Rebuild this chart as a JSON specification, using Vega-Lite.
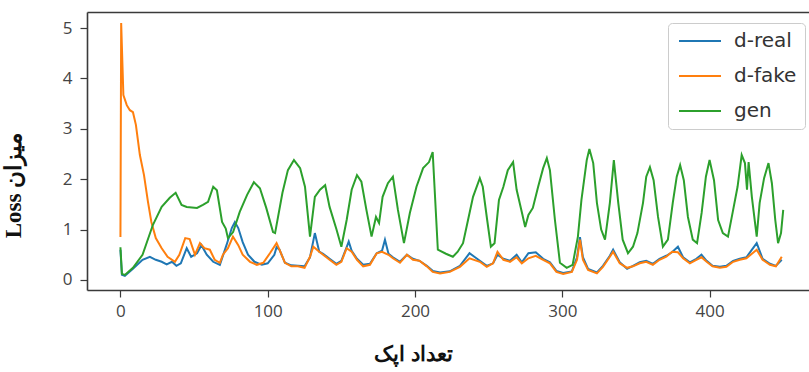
{
"$schema": "https://vega.github.io/schema/vega-lite/v6.json",
"width": 722, "height": 278,
"autosize": "none",
"padding": {"left": 87, "top": 12, "right": 0, "bottom": 82},
"background": "white",
"config": {"view": {"stroke": null}},
"datasets": {
"real": [{"epoch":0,"loss":0.6},{"epoch":1,"loss":0.1},{"epoch":3,"loss":0.08},{"epoch":8.5,"loss":0.22},{"epoch":15,"loss":0.4},{"epoch":20,"loss":0.46},{"epoch":24,"loss":0.4},{"epoch":28,"loss":0.36},{"epoch":31.4,"loss":0.31},{"epoch":35,"loss":0.36},{"epoch":38,"loss":0.28},{"epoch":41,"loss":0.33},{"epoch":45,"loss":0.63},{"epoch":48,"loss":0.46},{"epoch":52,"loss":0.53},{"epoch":55,"loss":0.69},{"epoch":58.6,"loss":0.5},{"epoch":63,"loss":0.36},{"epoch":67.5,"loss":0.3},{"epoch":72,"loss":0.69},{"epoch":75.6,"loss":1.03},{"epoch":77.7,"loss":1.15},{"epoch":80,"loss":1.03},{"epoch":83,"loss":0.75},{"epoch":86.6,"loss":0.5},{"epoch":91,"loss":0.36},{"epoch":96,"loss":0.3},{"epoch":100,"loss":0.33},{"epoch":104.5,"loss":0.5},{"epoch":106,"loss":0.65},{"epoch":108,"loss":0.6},{"epoch":111.7,"loss":0.34},{"epoch":116,"loss":0.29},{"epoch":120.5,"loss":0.28},{"epoch":125,"loss":0.27},{"epoch":128.7,"loss":0.45},{"epoch":132,"loss":0.93},{"epoch":135,"loss":0.56},{"epoch":137.6,"loss":0.52},{"epoch":142,"loss":0.42},{"epoch":146.6,"loss":0.32},{"epoch":150,"loss":0.38},{"epoch":153.6,"loss":0.65},{"epoch":155,"loss":0.76},{"epoch":157,"loss":0.58},{"epoch":160.6,"loss":0.42},{"epoch":164.8,"loss":0.3},{"epoch":169.4,"loss":0.32},{"epoch":174,"loss":0.53},{"epoch":177.6,"loss":0.58},{"epoch":179.6,"loss":0.8},{"epoch":182,"loss":0.52},{"epoch":185,"loss":0.45},{"epoch":189.8,"loss":0.36},{"epoch":194.5,"loss":0.5},{"epoch":198.6,"loss":0.42},{"epoch":203,"loss":0.38},{"epoch":208,"loss":0.28},{"epoch":212,"loss":0.18},{"epoch":217,"loss":0.15},{"epoch":223.6,"loss":0.17},{"epoch":230.5,"loss":0.28},{"epoch":237,"loss":0.53},{"epoch":244,"loss":0.38},{"epoch":248.7,"loss":0.28},{"epoch":253,"loss":0.33},{"epoch":256,"loss":0.5},{"epoch":260,"loss":0.42},{"epoch":264.5,"loss":0.38},{"epoch":269,"loss":0.5},{"epoch":272.5,"loss":0.35},{"epoch":277,"loss":0.53},{"epoch":282,"loss":0.55},{"epoch":287,"loss":0.42},{"epoch":291.6,"loss":0.35},{"epoch":296,"loss":0.18},{"epoch":300.6,"loss":0.14},{"epoch":306.5,"loss":0.17},{"epoch":310,"loss":0.45},{"epoch":312,"loss":0.85},{"epoch":314,"loss":0.45},{"epoch":317.5,"loss":0.22},{"epoch":323.5,"loss":0.15},{"epoch":327.6,"loss":0.28},{"epoch":332.3,"loss":0.48},{"epoch":334.5,"loss":0.6},{"epoch":339,"loss":0.35},{"epoch":344,"loss":0.22},{"epoch":348,"loss":0.28},{"epoch":352.6,"loss":0.35},{"epoch":357,"loss":0.38},{"epoch":361.5,"loss":0.32},{"epoch":366,"loss":0.42},{"epoch":370.6,"loss":0.48},{"epoch":374.5,"loss":0.55},{"epoch":378.5,"loss":0.66},{"epoch":382,"loss":0.45},{"epoch":386.6,"loss":0.35},{"epoch":391,"loss":0.42},{"epoch":394.5,"loss":0.5},{"epoch":398,"loss":0.38},{"epoch":402,"loss":0.28},{"epoch":407,"loss":0.26},{"epoch":411.4,"loss":0.28},{"epoch":416,"loss":0.38},{"epoch":420.5,"loss":0.42},{"epoch":425,"loss":0.45},{"epoch":432,"loss":0.73},{"epoch":436,"loss":0.42},{"epoch":441,"loss":0.32},{"epoch":445,"loss":0.28},{"epoch":449,"loss":0.4}],
"fake": [{"epoch":0,"loss":0.85},{"epoch":0.5,"loss":5.1},{"epoch":2,"loss":3.67},{"epoch":4.3,"loss":3.47},{"epoch":6.4,"loss":3.37},{"epoch":8.5,"loss":3.33},{"epoch":10.5,"loss":3.08},{"epoch":13.2,"loss":2.48},{"epoch":16,"loss":2.08},{"epoch":18.7,"loss":1.55},{"epoch":21,"loss":1.15},{"epoch":24,"loss":0.83},{"epoch":28,"loss":0.63},{"epoch":32,"loss":0.46},{"epoch":37,"loss":0.36},{"epoch":40,"loss":0.5},{"epoch":44,"loss":0.83},{"epoch":47,"loss":0.81},{"epoch":50.6,"loss":0.5},{"epoch":54,"loss":0.73},{"epoch":57,"loss":0.63},{"epoch":60.7,"loss":0.6},{"epoch":64,"loss":0.4},{"epoch":67.5,"loss":0.34},{"epoch":69.6,"loss":0.5},{"epoch":73,"loss":0.63},{"epoch":76.4,"loss":0.86},{"epoch":80,"loss":0.69},{"epoch":83,"loss":0.5},{"epoch":88,"loss":0.36},{"epoch":92.6,"loss":0.3},{"epoch":97,"loss":0.34},{"epoch":101.5,"loss":0.53},{"epoch":106,"loss":0.73},{"epoch":108,"loss":0.6},{"epoch":111.7,"loss":0.34},{"epoch":116,"loss":0.27},{"epoch":120.5,"loss":0.27},{"epoch":125,"loss":0.24},{"epoch":128.7,"loss":0.46},{"epoch":131,"loss":0.66},{"epoch":135,"loss":0.56},{"epoch":137.6,"loss":0.5},{"epoch":142,"loss":0.4},{"epoch":146.6,"loss":0.3},{"epoch":150,"loss":0.36},{"epoch":153.6,"loss":0.63},{"epoch":157,"loss":0.56},{"epoch":160.6,"loss":0.4},{"epoch":164.8,"loss":0.27},{"epoch":169.4,"loss":0.3},{"epoch":174,"loss":0.53},{"epoch":177.6,"loss":0.56},{"epoch":182,"loss":0.5},{"epoch":185,"loss":0.43},{"epoch":189.8,"loss":0.34},{"epoch":194.5,"loss":0.5},{"epoch":198.6,"loss":0.4},{"epoch":203,"loss":0.38},{"epoch":208,"loss":0.27},{"epoch":212,"loss":0.16},{"epoch":217,"loss":0.13},{"epoch":223.6,"loss":0.16},{"epoch":230.5,"loss":0.26},{"epoch":237,"loss":0.43},{"epoch":244,"loss":0.36},{"epoch":248.7,"loss":0.26},{"epoch":253,"loss":0.33},{"epoch":256,"loss":0.56},{"epoch":260,"loss":0.4},{"epoch":264.5,"loss":0.36},{"epoch":269,"loss":0.45},{"epoch":272.5,"loss":0.33},{"epoch":277,"loss":0.43},{"epoch":282,"loss":0.48},{"epoch":287,"loss":0.4},{"epoch":291.6,"loss":0.33},{"epoch":296,"loss":0.16},{"epoch":300.6,"loss":0.12},{"epoch":306.5,"loss":0.16},{"epoch":310,"loss":0.4},{"epoch":312,"loss":0.8},{"epoch":314,"loss":0.4},{"epoch":317.5,"loss":0.2},{"epoch":323.5,"loss":0.13},{"epoch":327.6,"loss":0.26},{"epoch":332.3,"loss":0.46},{"epoch":334.5,"loss":0.56},{"epoch":339,"loss":0.33},{"epoch":344,"loss":0.24},{"epoch":348,"loss":0.27},{"epoch":352.6,"loss":0.33},{"epoch":357,"loss":0.36},{"epoch":361.5,"loss":0.3},{"epoch":366,"loss":0.4},{"epoch":370.6,"loss":0.46},{"epoch":374.5,"loss":0.56},{"epoch":378.5,"loss":0.55},{"epoch":382,"loss":0.43},{"epoch":386.6,"loss":0.33},{"epoch":391,"loss":0.4},{"epoch":394.5,"loss":0.45},{"epoch":398,"loss":0.36},{"epoch":402,"loss":0.27},{"epoch":407,"loss":0.24},{"epoch":411.4,"loss":0.26},{"epoch":416,"loss":0.36},{"epoch":420.5,"loss":0.4},{"epoch":425,"loss":0.43},{"epoch":432,"loss":0.6},{"epoch":436,"loss":0.4},{"epoch":441,"loss":0.3},{"epoch":445,"loss":0.27},{"epoch":449,"loss":0.46}],
"gen": [{"epoch":0,"loss":0.65},{"epoch":1,"loss":0.12},{"epoch":3,"loss":0.1},{"epoch":8.5,"loss":0.24},{"epoch":15,"loss":0.5},{"epoch":22,"loss":1.09},{"epoch":28,"loss":1.45},{"epoch":33.5,"loss":1.63},{"epoch":37.5,"loss":1.73},{"epoch":41.5,"loss":1.49},{"epoch":45,"loss":1.45},{"epoch":52,"loss":1.43},{"epoch":56,"loss":1.49},{"epoch":59.5,"loss":1.55},{"epoch":63,"loss":1.85},{"epoch":65.5,"loss":1.78},{"epoch":69,"loss":1.15},{"epoch":71.5,"loss":1.02},{"epoch":73,"loss":0.83},{"epoch":76.5,"loss":0.95},{"epoch":81,"loss":1.35},{"epoch":86,"loss":1.69},{"epoch":90.6,"loss":1.94},{"epoch":94.7,"loss":1.82},{"epoch":99,"loss":1.43},{"epoch":103.6,"loss":0.95},{"epoch":105,"loss":0.93},{"epoch":110,"loss":1.73},{"epoch":113.7,"loss":2.18},{"epoch":117.8,"loss":2.38},{"epoch":122,"loss":2.22},{"epoch":125.3,"loss":1.85},{"epoch":128.7,"loss":0.86},{"epoch":132,"loss":1.65},{"epoch":135.5,"loss":1.79},{"epoch":139,"loss":1.88},{"epoch":142,"loss":1.45},{"epoch":146.7,"loss":1.0},{"epoch":150,"loss":0.66},{"epoch":153.6,"loss":1.19},{"epoch":157,"loss":1.79},{"epoch":160.6,"loss":2.08},{"epoch":163.6,"loss":1.95},{"epoch":167,"loss":1.39},{"epoch":170.5,"loss":0.86},{"epoch":173.5,"loss":1.25},{"epoch":175.6,"loss":1.13},{"epoch":178,"loss":1.65},{"epoch":181.6,"loss":1.92},{"epoch":185,"loss":2.05},{"epoch":188.4,"loss":1.39},{"epoch":192.5,"loss":0.73},{"epoch":196.5,"loss":1.33},{"epoch":201,"loss":1.85},{"epoch":205.5,"loss":2.22},{"epoch":209.5,"loss":2.34},{"epoch":212,"loss":2.54},{"epoch":215.5,"loss":0.6},{"epoch":221,"loss":0.52},{"epoch":225.7,"loss":0.46},{"epoch":229,"loss":0.56},{"epoch":232.6,"loss":0.73},{"epoch":236,"loss":1.19},{"epoch":239.4,"loss":1.65},{"epoch":244,"loss":2.02},{"epoch":246,"loss":1.85},{"epoch":249,"loss":1.19},{"epoch":251.5,"loss":0.66},{"epoch":254,"loss":0.73},{"epoch":257,"loss":1.59},{"epoch":260,"loss":1.85},{"epoch":263,"loss":2.18},{"epoch":266.6,"loss":2.34},{"epoch":269,"loss":1.79},{"epoch":272.5,"loss":1.35},{"epoch":274.8,"loss":1.05},{"epoch":277,"loss":1.29},{"epoch":280,"loss":1.43},{"epoch":283.6,"loss":1.85},{"epoch":287,"loss":2.22},{"epoch":289.5,"loss":2.42},{"epoch":291.6,"loss":2.18},{"epoch":295,"loss":1.19},{"epoch":298.4,"loss":0.34},{"epoch":303,"loss":0.24},{"epoch":307,"loss":0.3},{"epoch":310.6,"loss":0.86},{"epoch":313,"loss":1.59},{"epoch":316.6,"loss":2.38},{"epoch":318.4,"loss":2.6},{"epoch":321,"loss":2.32},{"epoch":323.5,"loss":1.53},{"epoch":326.4,"loss":1.0},{"epoch":329,"loss":0.8},{"epoch":332.3,"loss":1.53},{"epoch":335,"loss":2.38},{"epoch":338,"loss":1.53},{"epoch":341,"loss":0.8},{"epoch":344.6,"loss":0.53},{"epoch":348,"loss":0.66},{"epoch":351,"loss":0.93},{"epoch":354.8,"loss":1.53},{"epoch":357,"loss":2.05},{"epoch":359.5,"loss":2.24},{"epoch":362,"loss":1.98},{"epoch":365,"loss":1.25},{"epoch":368.3,"loss":0.66},{"epoch":371.7,"loss":0.8},{"epoch":375,"loss":1.53},{"epoch":377.7,"loss":2.05},{"epoch":380,"loss":2.28},{"epoch":382.5,"loss":1.98},{"epoch":385.3,"loss":1.25},{"epoch":388.6,"loss":0.8},{"epoch":391.5,"loss":0.73},{"epoch":394.6,"loss":1.33},{"epoch":397.5,"loss":2.05},{"epoch":400,"loss":2.38},{"epoch":403,"loss":1.98},{"epoch":405.8,"loss":1.19},{"epoch":409,"loss":0.93},{"epoch":412.5,"loss":0.86},{"epoch":416,"loss":1.39},{"epoch":419,"loss":1.85},{"epoch":421.8,"loss":2.48},{"epoch":424,"loss":2.32},{"epoch":425.4,"loss":1.79},{"epoch":426.5,"loss":2.34},{"epoch":428.7,"loss":1.65},{"epoch":432,"loss":0.86},{"epoch":434,"loss":1.53},{"epoch":437,"loss":2.02},{"epoch":440,"loss":2.32},{"epoch":442.3,"loss":1.92},{"epoch":444.6,"loss":1.19},{"epoch":446.5,"loss":0.73},{"epoch":448.5,"loss":0.93},{"epoch":450,"loss":1.39}]
},
"encoding": {
"x": {"field": "epoch", "type": "quantitative", "scale": {"domain": [-22.7, 467.5], "nice": false, "zero": false}, "axis": null},
"y": {"field": "loss", "type": "quantitative", "scale": {"domain": [-0.2, 5.32], "nice": false, "zero": false},
  "axis": {"title": "Loss میزان", "values": [0,1,2,3,4,5], "grid": false, "domainColor": "#3a3a3a", "domainWidth": 1.6, "tickColor": "#3a3a3a", "tickSize": 7, "tickWidth": 1.2, "labelFont": "Open Sans", "labelFontSize": 17, "labelColor": "#444", "labelPadding": 8,
   "titleFont": "Liberation Serif", "titleFontSize": 23, "titleFontWeight": "bold", "titleColor": "#111", "titleAngle": 270, "titleAlign": "center", "titleBaseline": "middle", "titleX": -74, "titleY": 173}},
"color": {"scale": {"domain": ["d-real", "d-fake", "gen"], "range": ["#1f77b4", "#ff7f0e", "#2ca02c"]},
  "legend": {"title": null, "orient": "none", "legendX": 581, "legendY": 11, "symbolType": "M-1,0L5,0", "symbolSize": 196, "symbolStrokeWidth": 2.2, "labelFont": "DejaVu Sans", "labelFontSize": 20, "labelColor": "#333", "labelOffset": 38, "padding": 8, "rowPadding": 15, "strokeColor": "#cccccc", "fillColor": "white", "cornerRadius": 4}}
},
"layer": [
{"data": {"name": "real"}, "mark": {"type": "line", "strokeWidth": 2, "clip": true},
 "encoding": {"color": {"datum": "d-real"},
  "x": {"field": "epoch", "type": "quantitative", "axis": {"orient": "bottom", "title": "تعداد اپک", "values": [0,100,200,300,400], "grid": false, "domainColor": "#3a3a3a", "domainWidth": 1.6, "tickColor": "#3a3a3a", "tickSize": 7, "tickWidth": 1.2, "labelFont": "Open Sans", "labelFontSize": 17, "labelColor": "#444", "labelPadding": 6,
   "titleFont": "Liberation Serif", "titleFontSize": 21, "titleFontWeight": "bold", "titleColor": "#111", "titleAlign": "center", "titleBaseline": "middle", "titleX": 326, "titleY": 64}}}},
{"data": {"name": "fake"}, "mark": {"type": "line", "strokeWidth": 2, "clip": true}, "encoding": {"color": {"datum": "d-fake"}}},
{"data": {"name": "gen"}, "mark": {"type": "line", "strokeWidth": 2, "clip": true}, "encoding": {"color": {"datum": "gen"}}},
{"data": {"name": "real"}, "mark": {"type": "point", "opacity": 0},
 "encoding": {"x": {"field": "epoch", "type": "quantitative", "axis": {"orient": "top", "labels": false, "ticks": false, "title": null, "grid": false, "domainColor": "#3a3a3a", "domainWidth": 1.6}}}}
],
"resolve": {"axis": {"x": "independent"}}
}
